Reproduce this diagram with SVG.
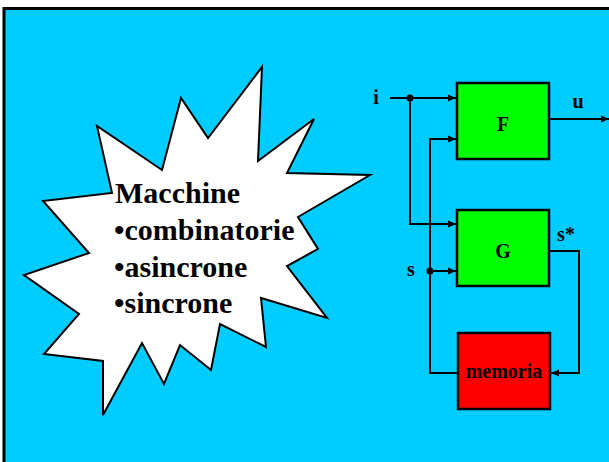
<svg xmlns="http://www.w3.org/2000/svg" width="609" height="462" viewBox="0 0 609 462">
  <style>
    .lbl { font-family: "Liberation Serif", "Times New Roman", serif; font-weight: bold; fill: #000; }
    .wire { fill: none; stroke: #000; stroke-width: 2; }
    .box { stroke: #000; stroke-width: 2.5; }
  </style>
  <defs>
    <marker id="arrow" markerUnits="userSpaceOnUse" markerWidth="10" markerHeight="10" refX="8" refY="5" orient="auto">
      <path d="M0,1.5 L8,5 L0,8.5 Z" fill="#000"/>
    </marker>
  </defs>

  <!-- slide background -->
  <rect x="0" y="0" width="609" height="462" fill="#ffffff"/>
  <rect x="4" y="8.5" width="620" height="470" fill="#00CCFF" stroke="#000" stroke-width="3"/>

  <!-- starburst callout -->
  <g id="starburst">
    <polygon points="262,67 258,161 314,119 287,173 370,175 298,217 318,249 287,266 327,318 261,298 266,347 220,324 211,370 180,345 164,384 142,343 103,415 103,361 44,354 79,314 24,275 89,253 43,201 112,193 97,126 162,170 181,98 208,138"
             fill="#ffffff" stroke="#000" stroke-width="2"/>
    <text class="lbl" font-size="30" x="115" y="203">Macchine</text>
    <text class="lbl" font-size="30" x="114" y="240">•combinatorie</text>
    <text class="lbl" font-size="30" x="114" y="277">•asincrone</text>
    <text class="lbl" font-size="30" x="114" y="313">•sincrone</text>
  </g>

  <!-- connectors -->
  <g id="connectors">
    <path class="wire" d="M390,98 H456" marker-end="url(#arrow)"/>
    <path class="wire" d="M410,98 V224 H456" marker-end="url(#arrow)"/>
    <path class="wire" d="M457,373 H430 V139 H456" marker-end="url(#arrow)"/>
    <path class="wire" d="M430,271 H456" marker-end="url(#arrow)"/>
    <path class="wire" d="M549,119 H609" marker-end="url(#arrow)"/>
    <path class="wire" d="M549,251 H579 V373 H551" marker-end="url(#arrow)"/>
    <circle cx="410" cy="98" r="3.5" fill="#000"/>
    <circle cx="430" cy="271" r="3.5" fill="#000"/>
    <text class="lbl" font-size="20" x="376" y="104" text-anchor="middle">i</text>
    <text class="lbl" font-size="20" x="578" y="108" text-anchor="middle">u</text>
    <text class="lbl" font-size="20" x="566" y="241" text-anchor="middle">s*</text>
    <text class="lbl" font-size="20" x="411" y="276" text-anchor="middle">s</text>
  </g>

  <g id="F">
    <rect class="box" x="457" y="83" width="92" height="76" fill="#00FF00"/>
    <text class="lbl" font-size="20" x="503" y="131" text-anchor="middle">F</text>
  </g>

  <g id="G">
    <rect class="box" x="457" y="210" width="92" height="76" fill="#00FF00"/>
    <text class="lbl" font-size="20" x="503" y="258" text-anchor="middle">G</text>
  </g>

  <g id="memoria">
    <rect class="box" x="458" y="333" width="92" height="76" fill="#FF0000"/>
    <text class="lbl" font-size="20" x="504" y="378" text-anchor="middle">memoria</text>
  </g>
</svg>
